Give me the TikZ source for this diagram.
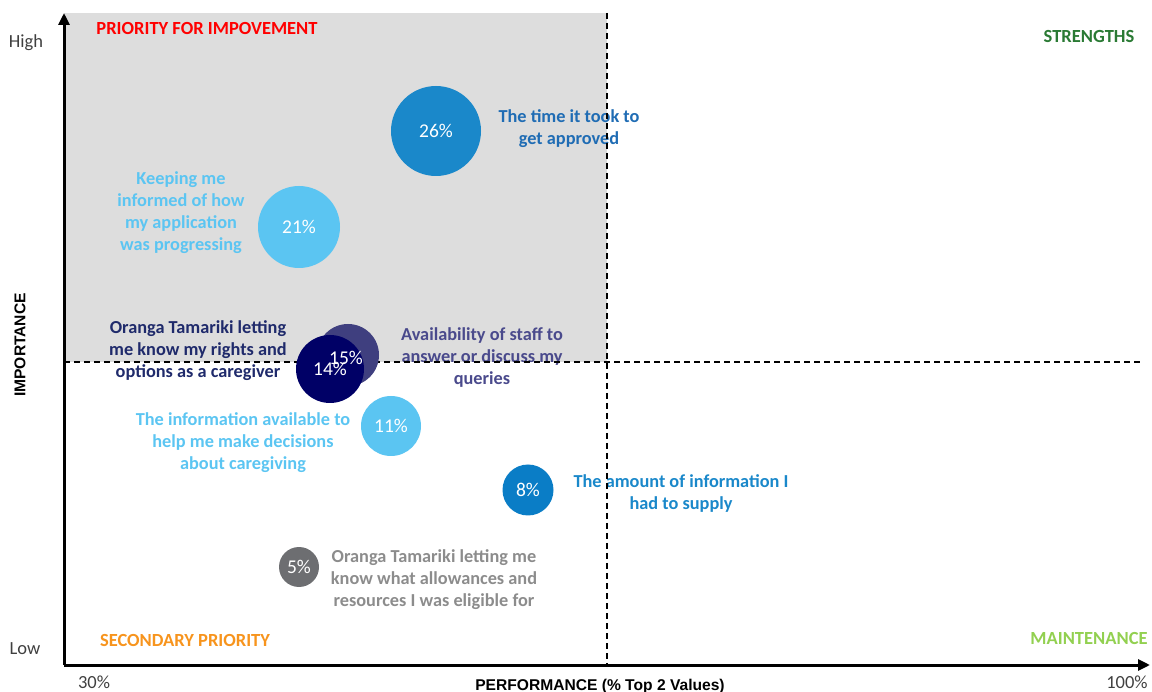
\documentclass[tikz,border=0pt]{standalone}
\usepackage{fontspec}
\setmainfont{Carlito}
\newfontfamily\axisfont{Liberation Sans}
\usetikzlibrary{positioning,arrows.meta}
\definecolor{quadgray}{HTML}{DDDDDD}
\definecolor{midblue}{HTML}{1A88CA}
\definecolor{darkblue}{HTML}{1F6CB4}
\definecolor{skyblue}{HTML}{5BC5F2}
\definecolor{slatenavy}{HTML}{3F3F7F}
\definecolor{slatetext}{HTML}{4A4A8C}
\definecolor{deepnavy}{HTML}{000066}
\definecolor{navytext}{HTML}{1F2A6B}
\definecolor{brightblue}{HTML}{0A7DC6}
\definecolor{bubgray}{HTML}{6D6E71}
\definecolor{labgray}{HTML}{8C8C8C}
\definecolor{strgreen}{HTML}{2A7A34}
\definecolor{maintgreen}{HTML}{92D050}
\definecolor{secorange}{HTML}{F7941D}
\definecolor{ticktext}{HTML}{404040}

\begin{document}
\begin{tikzpicture}[x=1pt,y=-1pt,
    bubble/.style={circle,inner sep=0pt,draw=none},
    pct/.style={text=white,font=\fontsize{19.5}{22}\selectfont},
    lab/.style={align=center,font=\bfseries\fontsize{18.3}{22}\selectfont},
    quad/.style={font=\bfseries\fontsize{18.5}{20}\selectfont},
    axlab/.style={text=black,font=\axisfont\bfseries\fontsize{15.6}{17}\selectfont},
    tick/.style={text=ticktext,font=\fontsize{18.5}{20}\selectfont},
    axis/.style={line width=3pt,-{Triangle[length=12pt,width=11pt]}},
    split/.style={line width=1.3pt,dash pattern=on 6pt off 4pt}]
    \useasboundingbox (0,0) rectangle (1152,692);
    \fill[quadgray] (64,13) rectangle (607,362);

    % axes
    \coordinate (origin) at (64,665);
    \coordinate (ytop) at (64,13);
    \coordinate (xend) at (1150,665);
    \coordinate (vtop) at (607,13);
    \coordinate (vbot) at (607,665);
    \coordinate (hleft) at (64,362);
    \coordinate (hright) at (1140,362);

    % labels of the bubbles
    \node[lab,text=darkblue] (ltime) at (569,129) {The time it took to\\get approved};
    \node[lab,text=skyblue] (lkeep) at (181,213) {Keeping me\\informed of how\\my application\\was progressing};
    \node[lab,text=slatetext] (lstaff) at (482,358) {Availability of staff to\\answer or discuss my\\queries};
    \node[lab,text=navytext] (lrights) at (198,351) {Oranga Tamariki letting\\me know my rights and\\options as a caregiver};
    \node[lab,text=skyblue] (linfo) at (243,443) {The information available to\\help me make decisions\\about caregiving};
    \node[lab,text=midblue] (lamount) at (681,494) {The amount of information I\\had to supply};
    \node[lab,text=labgray] (lallow) at (434,580) {Oranga Tamariki letting me\\know what allowances and\\resources I was eligible for};

    \draw[split] (vtop) -- (vbot);
    \draw[split] (hleft) -- (hright);
    \draw[axis] (origin) -- (ytop);
    \draw[axis] (origin) -- (xend);

    % bubbles
    \node[bubble,fill=midblue,minimum size=90pt] (b26) at (436,131) {};
    \node[bubble,fill=skyblue,minimum size=82pt] (b21) at (299,227) {};
    \node[bubble,fill=slatenavy,minimum size=62pt] (b15) at (348,355) {};
    \node[bubble,fill=deepnavy,minimum size=68pt] (b14) at (330,369) {};
    \node[bubble,fill=skyblue,minimum size=60pt] (b11) at (391,426) {};
    \node[bubble,fill=brightblue,minimum size=51pt] (b8) at (528,490) {};
    \node[bubble,fill=bubgray,minimum size=40pt] (b5) at (299,567) {};

    \node[pct] at (b26) {26\%};
    \node[pct] at (b21) {21\%};
    \node[pct] at (b14) {14\%};
    \node[pct] at ([xshift=-2pt,yshift=-3pt]b15) {15\%};
    \node[pct] at (b11) {11\%};
    \node[pct] at (b8) {8\%};
    \node[pct] at (b5) {5\%};

    % quadrants and axis texts
    \node[quad,text=red] (qprio) at (207,29) {PRIORITY FOR IMPOVEMENT};
    \node[quad,text=strgreen] (qstr) at (1089,37) {STRENGTHS};
    \node[quad,text=secorange] (qsec) at (185,640) {SECONDARY PRIORITY};
    \node[quad,text=maintgreen] (qmaint) at (1089,638) {MAINTENANCE};
    \node[tick] (high) at (26,43) {High};
    \node[tick] (low) at (25,649) {Low};
    \node[tick] (xmin) at (94,682) {30\%};
    \node[tick] (xmax) at (1127,682) {100\%};
    \node[axlab,rotate=90] (ylab) at (20,345) {IMPORTANCE};
    \node[axlab] (xlab) at (600,686) {PERFORMANCE (\% Top 2 Values)};
\end{tikzpicture}
\end{document}
